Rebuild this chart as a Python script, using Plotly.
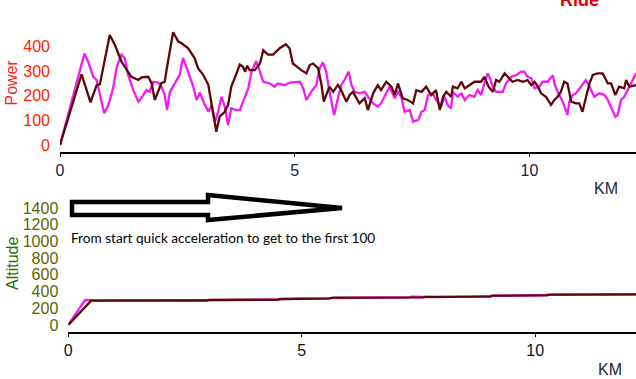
import plotly.graph_objects as go

# ---------------- data ----------------
brown_km = [0, 0.46, 0.65, 0.78, 0.85, 1.06, 1.17, 1.31, 1.52, 1.67, 1.74, 1.88, 1.95, 2.02, 2.16, 2.23,
            2.30, 2.41, 2.52, 2.59, 2.73, 2.87, 2.94, 3.05, 3.16, 3.23, 3.33, 3.40, 3.51, 3.58, 3.65, 3.76,
            3.83, 3.90, 3.94, 3.99, 4.04, 4.15, 4.26, 4.33, 4.43, 4.54, 4.68, 4.81, 4.89, 4.96, 5.04, 5.14,
            5.25, 5.32, 5.39, 5.50, 5.57, 5.62, 5.67, 5.74, 5.82, 5.92, 5.99, 6.10, 6.17, 6.24, 6.38, 6.49,
            6.56, 6.67, 6.77, 6.84, 6.95, 7.06, 7.13, 7.20, 7.30, 7.41, 7.52, 7.59, 7.70, 7.80, 7.91, 8.01,
            8.09, 8.16, 8.23, 8.33, 8.37, 8.47, 8.55, 8.62, 8.72, 8.83, 8.97, 9.04, 9.13, 9.22, 9.29, 9.36,
            9.47, 9.57, 9.64, 9.75, 9.86, 9.96, 10.04, 10.11, 10.18, 10.25, 10.35, 10.46, 10.53, 10.60, 10.67,
            10.74, 10.81, 10.89, 10.99, 11.06, 11.13, 11.20, 11.28, 11.35, 11.45, 11.56, 11.67, 11.74, 11.83,
            11.91, 12.02, 12.06, 12.13, 12.27]
brown_power = [0, 287, 173, 243, 247, 447, 406, 338, 277, 264, 275, 277, 251, 183, 251, 257,
               338, 458, 420, 413, 393, 352, 312, 285, 244, 163, 54, 115, 135, 163, 237, 291,
               327, 318, 297, 322, 304, 304, 331, 385, 367, 367, 393, 409, 393, 331, 318, 304,
               291, 325, 331, 311, 244, 176, 203, 237, 216, 244, 223, 176, 203, 216, 169, 190,
               142, 210, 243, 223, 257, 237, 203, 250, 190, 183, 169, 223, 216, 237, 203, 223,
               142, 196, 216, 196, 237, 230, 257, 230, 243, 257, 257, 277, 237, 216, 264, 257,
               291, 271, 257, 264, 257, 264, 243, 257, 237, 210, 196, 163, 183, 196, 216,
               257, 250, 176, 169, 169, 135, 190, 250, 285, 291, 291, 250, 250, 203,
               237, 230, 264, 237, 243]

mag_km = [0, 0.52, 0.60, 0.71, 0.78, 0.85, 0.94, 1.03, 1.13, 1.21, 1.31, 1.38, 1.45, 1.56, 1.67, 1.75,
          1.84, 1.91, 1.99, 2.09, 2.16, 2.23, 2.28, 2.34, 2.45, 2.55, 2.62, 2.70, 2.77, 2.84, 2.91, 2.98,
          3.07, 3.16, 3.23, 3.30, 3.37, 3.44, 3.51, 3.58, 3.65, 3.76, 3.83, 3.90, 4.01, 4.08, 4.18, 4.26,
          4.33, 4.47, 4.57, 4.64, 4.79, 4.85, 4.92, 5.11, 5.18, 5.25, 5.35, 5.46, 5.53, 5.60, 5.67, 5.74,
          5.84, 5.92, 5.99, 6.06, 6.15, 6.21, 6.28, 6.38, 6.49, 6.56, 6.67, 6.77, 6.84, 6.91, 7.02, 7.13,
          7.20, 7.27, 7.34, 7.45, 7.52, 7.63, 7.70, 7.77, 7.84, 7.94, 8.01, 8.12, 8.19, 8.26, 8.33, 8.37,
          8.47, 8.55, 8.62, 8.72, 8.83, 8.90, 8.97, 9.04, 9.11, 9.16, 9.22, 9.29, 9.43, 9.50, 9.61, 9.72,
          9.82, 9.89, 9.96, 10.04, 10.11, 10.21, 10.28, 10.39, 10.50, 10.53, 10.60, 10.71, 10.81, 10.85,
          10.92, 10.99, 11.09, 11.20, 11.28, 11.38, 11.49, 11.60, 11.67, 11.76, 11.83, 11.88, 11.95, 12.02,
          12.09, 12.16, 12.27]
mag_power = [0, 371, 338, 277, 264, 203, 129, 162, 230, 318, 367, 352, 285, 223, 176, 196,
             223, 216, 257, 254, 237, 203, 142, 216, 250, 285, 354, 311, 271, 237, 183, 213,
             170, 135, 163, 95, 135, 196, 156, 81, 149, 142, 142, 176, 230, 298, 341, 298,
             257, 250, 237, 250, 243, 250, 254, 257, 230, 183, 216, 243, 311, 336, 298, 216,
             122, 190, 243, 264, 298, 243, 216, 210, 216, 196, 169, 156, 169, 196, 237, 190,
             216, 196, 135, 142, 95, 101, 135, 142, 203, 210, 183, 156, 196, 162, 149, 216,
             196, 210, 183, 203, 196, 223, 203, 250, 291, 271, 237, 216, 216, 250, 277, 284,
             298, 298, 277, 271, 230, 237, 257, 257, 284, 250, 216, 176, 122, 176,
             203, 210, 237, 264, 237, 196, 210, 203, 183, 142, 115, 122, 183, 196,
             223, 250, 291]

brown_alt_km = [0, 0.49, 2.97, 3.00, 4.50, 4.53, 5.60, 5.67, 7.60, 7.65, 9.04, 9.08, 10.25, 10.30, 12.30]
brown_alt = [0, 291, 293, 299, 303, 311, 318, 327, 330, 336, 340, 351, 354, 363, 367]
mag_alt_km = [0, 0.36, 0.62, 2.95, 2.98, 4.48, 4.50, 5.55, 5.60, 7.30, 7.35, 7.90, 9.00, 9.05, 10.22, 10.27, 12.30]
mag_alt = [0, 299, 294, 291, 297, 301, 309, 316, 322, 331, 338, 333, 344, 349, 357, 360, 366]

power_ticks = [0, 100, 200, 300, 400]
alt_ticks = [0, 200, 400, 600, 800, 1000, 1200, 1400]
km_ticks = [0, 5, 10]

BROWN = "#5c0808"
MAGENTA = "#f51af5"
W, H = 636, 379


def px(x):
    return x / W


def py(y):
    return 1 - y / H


fig = go.Figure()
fig.add_trace(go.Scatter(x=mag_km, y=mag_power, mode="lines",
                         line=dict(color=MAGENTA, width=2.3), xaxis="x", yaxis="y"))
fig.add_trace(go.Scatter(x=brown_km, y=brown_power, mode="lines",
                         line=dict(color=BROWN, width=2.3), xaxis="x", yaxis="y"))
fig.add_trace(go.Scatter(x=mag_alt_km, y=mag_alt, mode="lines",
                         line=dict(color=MAGENTA, width=2.3), xaxis="x2", yaxis="y2"))
fig.add_trace(go.Scatter(x=brown_alt_km, y=brown_alt, mode="lines",
                         line=dict(color=BROWN, width=2.3), xaxis="x2", yaxis="y2"))

FONT = "Liberation Sans, Arial"

fig.update_layout(
    width=W, height=H,
    margin=dict(l=0, r=0, t=0, b=0, autoexpand=False),
    paper_bgcolor="white", plot_bgcolor="white",
    showlegend=False,
    xaxis=dict(domain=[px(60), 1], range=[0, 12.27], tickvals=km_ticks, automargin=False,
               showgrid=False, zeroline=False, showline=True, linecolor="black", linewidth=1.5,
               ticks="outside", ticklen=3, tickcolor="black",
               tickfont=dict(family=FONT, size=16, color="#1a2440"), anchor="y"),
    yaxis=dict(domain=[py(152), 1], range=[-28.4, 589], tickvals=power_ticks, automargin=False,
               showgrid=False, zeroline=False, showline=False, ticks="",
               tickfont=dict(family=FONT, size=16, color="#ff2200"),
               ticklabelstandoff=9, anchor="x"),
    xaxis2=dict(domain=[px(68.3), 1], range=[0, 12.16], tickvals=km_ticks, automargin=False,
                showgrid=False, zeroline=False, showline=True, linecolor="black", linewidth=1.5,
                ticks="outside", ticklen=3, tickcolor="black",
                tickfont=dict(family=FONT, size=16, color="#111111"), anchor="y2"),
    yaxis2=dict(domain=[py(332), py(196)], range=[-84, 1543], tickvals=alt_ticks, automargin=False,
                showgrid=False, zeroline=False, showline=False, ticks="",
                tickfont=dict(family=FONT, size=16, color="#5a6600"),
                ticklabelstandoff=9, anchor="x2"),
)

C = dict(xref="paper", yref="paper", xanchor="center", yanchor="middle", showarrow=False)
fig.add_annotation(x=px(11), y=py(82.5), text="Power", textangle=-90,
                   font=dict(family=FONT, size=16, color="#ff2222"), **C)
fig.add_annotation(x=px(12), y=py(264), text="Altitude", textangle=-90,
                   font=dict(family=FONT, size=16, color="#2d6a00"), **C)
fig.add_annotation(x=px(606), y=py(188), text="KM",
                   font=dict(family=FONT, size=16, color="#1a2440"), **C)
fig.add_annotation(x=px(610), y=py(369), text="KM",
                   font=dict(family=FONT, size=16, color="#1a2440"), **C)
fig.add_annotation(x=px(579), y=py(0), text="<b>Ride</b>",
                   font=dict(family=FONT, size=18, color="#dd0000"), **C)
fig.add_annotation(x=px(69), y=py(238), xref="paper", yref="paper", xanchor="left", yanchor="middle",
                   text="From start quick acceleration to get to the first 100",
                   showarrow=False, font=dict(family="Lato", size=13.6, color="black"))

# block arrow outline
pts = [(72, 202), (208, 202), (208, 195), (342, 208), (208, 220), (208, 215), (72, 215)]
path = "M " + " L ".join(f"{px(a):.5f},{py(b):.5f}" for a, b in pts) + " Z"
fig.add_shape(type="path", path=path, xref="paper", yref="paper",
              line=dict(color="black", width=4.5), fillcolor="white")

fig.write_html("out.html", config={"displayModeBar": False},
               post_script="document.body.style.margin='0';document.body.style.overflow='hidden';")
